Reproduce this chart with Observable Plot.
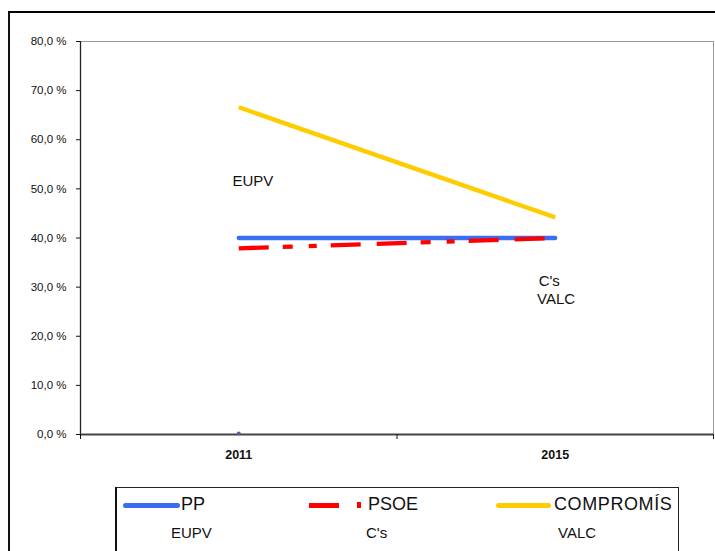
<!DOCTYPE html>
<html><head><meta charset="utf-8">
<script src="https://cdn.jsdelivr.net/npm/d3@7"></script>
<script src="https://cdn.jsdelivr.net/npm/@observablehq/plot@0.6"></script>
<style>
html,body{margin:0;padding:0;background:#fff;}
body{font-family:"Liberation Sans",Arial,sans-serif;}
#wrap{position:relative;width:715px;height:551px;overflow:hidden;background:#fff;}
#frame{position:absolute;left:8px;top:11px;width:720px;height:560px;border-top:2px solid #000;border-left:2px solid #111;}
#chart{position:absolute;left:0;top:0;}
#legend{position:absolute;left:115px;top:487px;width:561px;height:70px;border:1px solid #222;border-left:2px solid #111;background:#fff;}
#legend .it{position:absolute;white-space:nowrap;color:#111;}
#legend .sw{position:absolute;height:5px;border-radius:3px;}
</style></head><body>
<div id="wrap"><div id="frame"></div><div id="chart"></div><div id="legend"></div></div>
<script>
// ---- data ----
const years = [2011, 2015];
const pp = [0.40, 0.40];
const psoe = [0.379, 0.40];
const compromis = [0.666, 0.442];
const eupv = [0.0];
const seriesNames = ["PP", "PSOE", "COMPROMÍS"];
const seriesColors = ["#3a6ef0", "#ff0000", "#ffcc00"];
const yTicks = [0, 0.1, 0.2, 0.3, 0.4, 0.5, 0.6, 0.7, 0.8];
const xDomain = [2009, 2017];
const xBoundaryTicks = [2009, 2013, 2017];
const legendRow2 = ["EUPV", "C's", "VALC"];
const plotLabels = [
  {text: "EUPV", x: 2010.92, y: 0.515},
  {text: "C's", x: 2014.79, y: 0.313},
  {text: "VALC", x: 2014.77, y: 0.276}
];

const rows = [];
years.forEach((yr, i) => {
  rows.push({year: yr, value: pp[i], party: "PP"});
  rows.push({year: yr, value: psoe[i], party: "PSOE"});
  rows.push({year: yr, value: compromis[i], party: "COMPROMÍS"});
});
const eupvRows = eupv.map((v, i) => ({year: years[i], value: v}));

const chart = Plot.plot({
  width: 715,
  height: 495,
  marginLeft: 80,
  marginRight: 2,
  marginTop: 41,
  marginBottom: 61,
  style: {fontFamily: "'Liberation Sans', Arial, sans-serif", background: "transparent", overflow: "visible"},
  x: {type: "linear", domain: xDomain},
  y: {domain: [0, 0.8]},
  marks: [
    Plot.frame({stroke: "#9a9a9a", strokeWidth: 1}),
    Plot.ruleX([xDomain[0]], {stroke: "#222", strokeWidth: 1.3}),
    Plot.ruleY([0], {stroke: "#444", strokeWidth: 2}),
    Plot.axisY({
      ticks: yTicks, tickSize: 4, tickPadding: 10, stroke: "#111",
      tickFormat: d => `${Math.round(d * 100)},0 %`,
      fontSize: 11.5, fill: "#111",
      style: {fontFamily: "'Liberation Sans Narrow','Liberation Sans',Arial,sans-serif"}
    }),
    Plot.axisX({ticks: xBoundaryTicks, tickSize: 5, tickFormat: () => "", stroke: "#111"}),
    Plot.axisX({ticks: years, tickSize: 0, tickPadding: 16, tickFormat: d => String(d),
      fontSize: 12.5, fontWeight: "bold", fill: "#111",
      style: {fontFamily: "'Liberation Sans Narrow','Liberation Sans',Arial,sans-serif"}}),
    Plot.dot(eupvRows, {x: "year", y: "value", r: 2, fill: "#5a5aa0", dy: -1}),
    Plot.line(rows.filter(d => d.party === "PP"), {x: "year", y: "value", stroke: seriesColors[0], strokeWidth: 4.3, strokeLinecap: "round"}),
    Plot.line(rows.filter(d => d.party === "PSOE"), {x: "year", y: "value", stroke: seriesColors[1], strokeWidth: 4.3, strokeLinecap: "butt", strokeDasharray: "30 14 10 16 8 14 30 16"}),
    Plot.line(rows.filter(d => d.party === "COMPROMÍS"), {x: "year", y: "value", stroke: seriesColors[2], strokeWidth: 4.3, strokeLinecap: "butt"}),
    Plot.text(plotLabels, {x: "x", y: "y", text: "text", textAnchor: "start", fontSize: 15, fill: "#111"})
  ]
});
document.getElementById("chart").appendChild(chart);

// ---- legend ----
const lg = document.getElementById("legend");
const sw = [
  {left: 6, width: 57, color: seriesColors[0], round: true},
  {left: 192, width: 30, color: seriesColors[1], round: false},
  {left: 379, width: 55, color: seriesColors[2], round: true}
];
const textLeft = [64, 251, 437];
const row2Left = [54, 249, 441];
sw.forEach((s, i) => {
  const d = document.createElement("div");
  d.className = "sw";
  d.style.left = s.left + "px"; d.style.top = "15px"; d.style.width = s.width + "px";
  d.style.background = s.color;
  if (!s.round) d.style.borderRadius = "0";
  lg.appendChild(d);
  const t = document.createElement("div");
  t.className = "it";
  t.textContent = seriesNames[i];
  t.style.left = textLeft[i] + "px"; t.style.top = "6px"; t.style.fontSize = "18px";
  if (i === 2) t.style.letterSpacing = "0.6px";
  lg.appendChild(t);
  const r = document.createElement("div");
  r.className = "it";
  r.textContent = legendRow2[i];
  r.style.left = row2Left[i] + "px"; r.style.top = "36px"; r.style.fontSize = "15px";
  lg.appendChild(r);
});
const sq = document.createElement("div");
sq.className = "sw";
sq.style.left = "240px"; sq.style.top = "14px"; sq.style.width = "4px"; sq.style.height = "6px";
sq.style.borderRadius = "0"; sq.style.background = seriesColors[1];
lg.appendChild(sq);
</script>
</body></html>
